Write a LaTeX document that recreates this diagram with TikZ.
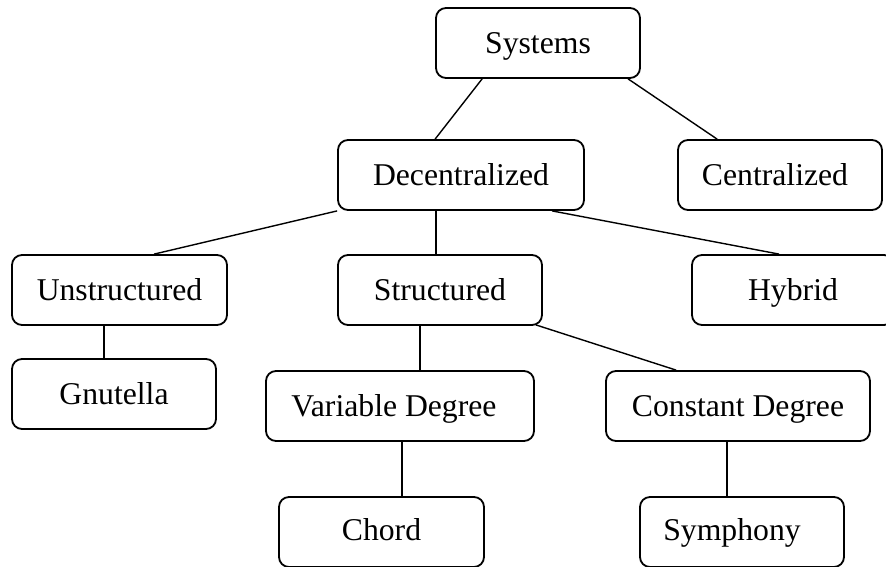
\documentclass[tikz,border=0pt]{standalone}
\usepackage{fontspec}
\setmainfont{Liberation Serif}
\begin{document}
\begin{tikzpicture}[x=1pt,y=-1pt,
  box/.style={draw, line width=1.8pt, rounded corners=10pt, inner sep=0pt,
    minimum height=70pt, text height=21pt, text depth=0pt,
    font=\fontsize{31.7}{38}\selectfont},
  link/.style={line width=1.4pt}]
\useasboundingbox (0,0) rectangle (886,566);

% tree nodes
\node[box, minimum width=204pt] (sys)    at (538,43)    {Systems};
\node[box, minimum width=246pt] (dec)    at (461,175)   {Decentralized};
\node[box, minimum width=204pt] (cent)   at (780,175)   {\hspace*{-10pt}Centralized};
\node[box, minimum width=215pt] (unstr)  at (119.5,290) {Unstructured};
\node[box, minimum width=204pt] (struct) at (440,290)   {Structured};
\node[box, minimum width=202pt] (hyb)    at (793,290)   {Hybrid};
\node[box, minimum width=204pt] (gnut)   at (114,394)   {Gnutella};
\node[box, minimum width=268pt] (var)    at (400,406)   {\hspace*{-12pt}Variable Degree};
\node[box, minimum width=264pt] (const)  at (738,406)   {Constant Degree};
\node[box, minimum width=205pt, text height=16pt] (chord) at (381.5,532) {Chord};
\node[box, minimum width=204pt, text height=16pt] (sym)   at (742,532)   {\hspace*{-20pt}Symphony};

% connectors
\draw[link] ([xshift=47pt]sys.south west)   -- ([xshift=98pt]dec.north west);
\draw[link] ([xshift=193pt]sys.south west)  -- ([xshift=40pt]cent.north west);
\draw[link] (dec.south west)                -- ([xshift=143pt]unstr.north west);
\draw[link] ([xshift=99pt]dec.south west)   -- ([xshift=99pt]struct.north west);
\draw[link] ([xshift=215pt]dec.south west)  -- ([xshift=88pt]hyb.north west);
\draw[link] ([xshift=93pt]unstr.south west) -- ([xshift=93pt]gnut.north west);
\draw[link] ([xshift=83pt]struct.south west) -- ([xshift=155pt]var.north west);
\draw[link] ([xshift=-7pt,yshift=1pt]struct.south east) -- ([xshift=71pt]const.north west);
\draw[link] ([xshift=137pt]var.south west)  -- ([xshift=124pt]chord.north west);
\draw[link] ([xshift=122pt]const.south west) -- ([xshift=88pt]sym.north west);
\end{tikzpicture}
\end{document}
